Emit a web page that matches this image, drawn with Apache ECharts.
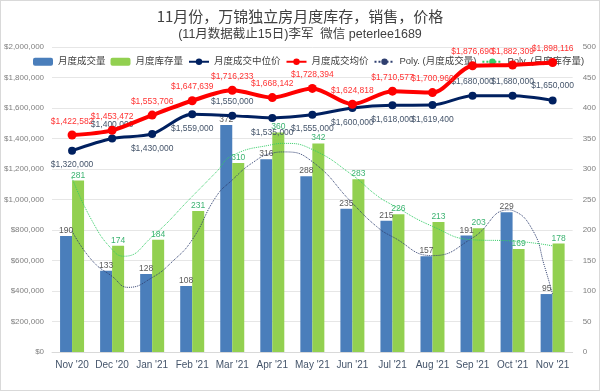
<!DOCTYPE html>
<html>
<head>
<meta charset="utf-8">
<script src="https://cdn.jsdelivr.net/npm/echarts@6/dist/echarts.min.js"></script>
<style>
html,body{margin:0;padding:0;background:#fff;}
#c{width:600px;height:391px;box-sizing:border-box;border:1px solid #d9d9d9;}
</style>
</head>
<body>
<div id="c"></div>
<script>
const categories = ["Nov '20","Dec '20","Jan '21","Feb '21","Mar '21","Apr '21","May '21","Jun '21","Jul '21","Aug '21","Sep '21","Oct '21","Nov '21"];
const salesVolume = [190,133,128,108,372,316,288,235,215,157,191,229,95];
const inventory = [281,174,184,231,310,360,342,283,226,213,203,169,178];
const medianPrice = [1320000,1400000,1430000,1559000,1550000,1535000,1555000,1600000,1618000,1619400,1680000,1680000,1650000];
const avgPrice = [1422582,1453472,1553706,1647639,1716233,1668142,1728394,1624818,1710577,1700960,1876690,1882309,1898116];
// trendline points: [category position, value]
const salesTrend = [[0,198],[0.5,150],[1,124],[1.4,106],[2,122],[2.5,148],[3,184],[3.6,255],[4,282],[4.5,310],[5,326],[5.3,328],[6,312],[7,244],[7.6,206],[8,189],[9,158],[10,187],[10.9,233],[11,232],[11.5,200],[11.8,140],[12,94]];
const inventoryTrend = [[0,285],[0.5,215],[1,168],[1.3,157],[2,189],[3,255],[3.6,295],[4,322],[5,340],[5.3,342],[6,332],[7,290],[7.6,257],[8,241],[9,206],[10,184],[11,182],[12,174]];
const leftTicks = {min:0,max:2000000,interval:200000};
const rightTicks = {min:0,max:500,interval:50};

const fmt = v => '$' + Math.round(v).toLocaleString('en-US');
const font = 'Liberation Sans, Noto Sans CJK SC, sans-serif';
const cjk = 'Noto Sans CJK SC, sans-serif';
const chart = echarts.init(document.getElementById('c'));
const medianPos = ['bottom','top','bottom','bottom','top','bottom','bottom','bottom','bottom','bottom','top','top','top'];
chart.setOption({
  animation:false,
  textStyle:{fontFamily:font},
  title:[
    {text:'11月份，万锦独立房月度库存，销售，价格',left:'center',top:3,textStyle:{fontSize:15,fontWeight:'normal',color:'#404040',fontFamily:cjk}},
    {text:'(11月数据截止15日)李军  微信 peterlee1689',left:'center',top:22,textStyle:{fontSize:12.5,fontWeight:'normal',color:'#404040',fontFamily:font}}
  ],
  legend:{
    top:56,left:32,width:568,itemWidth:20,itemHeight:8,itemGap:5,padding:0,
    textStyle:{fontSize:9.5,color:'#404040',fontFamily:font},
    data:['月度成交量','月度库存量','月度成交中位价','月度成交均价','Poly. (月度成交量)','Poly. (月度库存量)']
  },
  grid:{left:48,right:22,top:46,bottom:38},
  xAxis:[
    {type:'category',data:categories,axisTick:{show:false},axisLine:{lineStyle:{color:'#d9d9d9'}},
     axisLabel:{color:'#44546a',fontSize:10,margin:8,interval:0,fontFamily:'Liberation Sans, sans-serif'}},
    {type:'value',min:-0.5,max:12.5,show:false}
  ],
  yAxis:[
    {type:'value',min:leftTicks.min,max:leftTicks.max,interval:leftTicks.interval,
     axisLabel:{formatter:fmt,color:'#7f7f7f',fontSize:8},splitLine:{lineStyle:{color:'#e6e6e6'}},axisLine:{show:false},axisTick:{show:false}},
    {type:'value',min:rightTicks.min,max:rightTicks.max,interval:rightTicks.interval,
     axisLabel:{color:'#7f7f7f',fontSize:8,margin:10},splitLine:{show:false},axisLine:{show:false},axisTick:{show:false}}
  ],
  series:[
    {name:'月度成交量',type:'bar',yAxisIndex:1,data:salesVolume,barWidth:12,barGap:'0%',
     itemStyle:{color:'#4a7ebb'},
     label:{show:true,position:'top',distance:1,color:'#595959',fontSize:8.5}},
    {name:'月度库存量',type:'bar',yAxisIndex:1,data:inventory,barWidth:12,barGap:'0%',
     itemStyle:{color:'#92d050'},
     label:{show:true,position:'top',distance:1,color:'#3cb371',fontSize:8.5}},
    {name:'Poly. (月度成交量)',type:'line',xAxisIndex:1,yAxisIndex:1,data:salesTrend,smooth:0.5,symbol:'none',z:3,
     lineStyle:{color:'#2f3f6f',width:1,type:'dotted'},itemStyle:{color:'#2f3f6f'}},
    {name:'Poly. (月度库存量)',type:'line',xAxisIndex:1,yAxisIndex:1,data:inventoryTrend,smooth:0.5,symbol:'none',z:3,
     lineStyle:{color:'#33cc66',width:1,type:'dotted'},itemStyle:{color:'#33cc66'}},
    {name:'月度成交中位价',type:'line',yAxisIndex:0,z:4,smooth:0.3,symbol:'circle',symbolSize:8,
     data:medianPrice.map((v,i)=>({value:v,label:{position:medianPos[i]}})),
     lineStyle:{color:'#002060',width:3},itemStyle:{color:'#002060'},
     label:{show:true,formatter:p=>fmt(p.value),color:'#44546a',fontSize:8.5,distance:6}},
    {name:'月度成交均价',type:'line',yAxisIndex:0,z:5,smooth:0.3,symbol:'circle',symbolSize:9,
     data:avgPrice,
     lineStyle:{color:'#ff0000',width:4},itemStyle:{color:'#ff0000'},
     label:{show:true,position:'top',formatter:p=>fmt(p.value),color:'#ff3333',fontSize:8.5,distance:5}}
  ]
});
</script>
</body>
</html>
